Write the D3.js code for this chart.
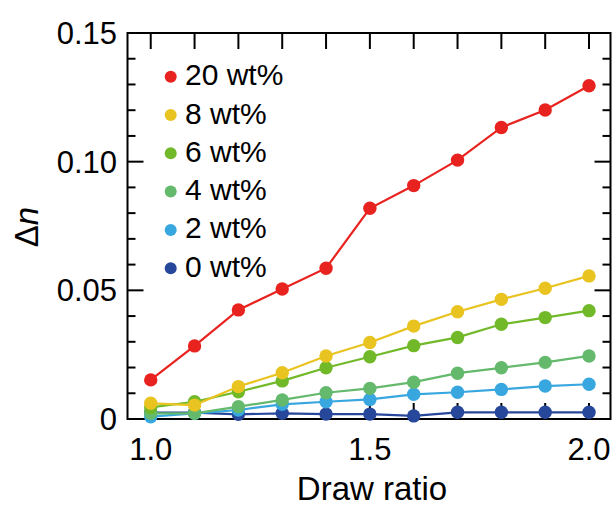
<!DOCTYPE html>
<html>
<head>
<meta charset="utf-8">
<script src="https://cdn.jsdelivr.net/npm/d3@7/dist/d3.min.js"></script>
<style>
  html, body { margin: 0; padding: 0; background: #fff; }
  svg { display: block; font-family: "Liberation Sans", Arial, Helvetica, sans-serif; }
</style>
</head>
<body>
<svg id="chart" width="616" height="508"></svg>
<script>
const drawRatio = [1.0, 1.1, 1.2, 1.3, 1.4, 1.5, 1.6, 1.7, 1.8, 1.9, 2.0];
const wt20 = [0.0152, 0.0284, 0.0424, 0.0505, 0.0586, 0.0819, 0.0907, 0.1006, 0.1133, 0.1201, 0.1295];
const wt8  = [0.0061, 0.0054, 0.0126, 0.0180, 0.0245, 0.0297, 0.0361, 0.0417, 0.0465, 0.0508, 0.0556];
const wt6  = [0.0045, 0.0067, 0.0106, 0.0148, 0.0199, 0.0242, 0.0285, 0.0317, 0.0368, 0.0394, 0.0421];
const wt4  = [0.0022, 0.0022, 0.0048, 0.0074, 0.0102, 0.0119, 0.0143, 0.0178, 0.0199, 0.0220, 0.0245];
const wt2  = [0.0009, 0.0022, 0.0035, 0.0057, 0.0067, 0.0076, 0.0096, 0.0104, 0.0115, 0.0128, 0.0135];
const wt0  = [0.0025, 0.0025, 0.0018, 0.0022, 0.0019, 0.0019, 0.0012, 0.0026, 0.0026, 0.0026, 0.0026];
const seriesNames = ["20 wt%", "8 wt%", "6 wt%", "4 wt%", "2 wt%", "0 wt%"];
const seriesValues = [wt20, wt8, wt6, wt4, wt2, wt0];
const seriesColors = ["#e8231f", "#e9c320", "#72b92a", "#64b96d", "#38a6df", "#27479b"];
const xTickValues = [1.0, 1.5, 2.0];
const xTickLabels = ["1.0", "1.5", "2.0"];
const xMinorTicks = [1.0, 1.1, 1.2, 1.3, 1.4, 1.5, 1.6, 1.7, 1.8, 1.9, 2.0];
const yTickValues = [0, 0.05, 0.10, 0.15];
const yTickLabels = ["0", "0.05", "0.10", "0.15"];
const yMinorTicks = [0.01, 0.02, 0.03, 0.04, 0.06, 0.07, 0.08, 0.09, 0.11, 0.12, 0.13, 0.14];

const svg = d3.select("#chart");
const L = 127.5, R = 610.5, T = 33, B = 419;
const x = d3.scaleLinear().domain([0.947, 2.049]).range([L, R]);
const y = d3.scaleLinear().domain([0, 0.15]).range([B, T]);

const majorLen = 16, minorLen = 8;
const g = svg.append("g");

// ticks (inward)
xMinorTicks.forEach(v => {
  g.append("line").attr("x1", x(v)).attr("x2", x(v)).attr("y1", T).attr("y2", T + majorLen)
    .attr("stroke", "#000").attr("stroke-width", 2);
  g.append("line").attr("x1", x(v)).attr("x2", x(v)).attr("y1", B).attr("y2", B - majorLen)
    .attr("stroke", "#000").attr("stroke-width", 2);
});
yTickValues.forEach(v => {
  g.append("line").attr("x1", L).attr("x2", L + majorLen).attr("y1", y(v)).attr("y2", y(v))
    .attr("stroke", "#000").attr("stroke-width", 2);
  g.append("line").attr("x1", R).attr("x2", R - majorLen).attr("y1", y(v)).attr("y2", y(v))
    .attr("stroke", "#000").attr("stroke-width", 2);
});
yMinorTicks.forEach(v => {
  g.append("line").attr("x1", L).attr("x2", L + minorLen).attr("y1", y(v)).attr("y2", y(v))
    .attr("stroke", "#000").attr("stroke-width", 2);
  g.append("line").attr("x1", R).attr("x2", R - minorLen).attr("y1", y(v)).attr("y2", y(v))
    .attr("stroke", "#000").attr("stroke-width", 2);
});

// frame
g.append("rect").attr("x", L).attr("y", T).attr("width", R - L).attr("height", B - T)
  .attr("fill", "none").attr("stroke", "#000").attr("stroke-width", 2);

// tick labels
xTickValues.forEach((v, i) => {
  g.append("text").attr("x", x(v)).attr("y", 460).attr("text-anchor", "middle")
    .attr("font-size", 31).attr("fill", "#000").text(xTickLabels[i]);
});
yTickValues.forEach((v, i) => {
  g.append("text").attr("x", 117).attr("y", y(v) + 11).attr("text-anchor", "end")
    .attr("font-size", 31).attr("fill", "#000").text(yTickLabels[i]);
});

// axis titles
svg.append("text").attr("x", (L + R) / 2 + 3).attr("y", 500).attr("text-anchor", "middle")
  .attr("font-size", 33).attr("fill", "#000").text("Draw ratio");
const yt = svg.append("text").attr("transform", "translate(38,227) rotate(-90)")
  .attr("text-anchor", "middle").attr("font-size", 33).attr("fill", "#000");
yt.append("tspan").text("Δ");
yt.append("tspan").attr("font-style", "italic").text("n");

// series: draw from 0 wt% up to 20 wt%
const line = d3.line().x((d, i) => x(drawRatio[i])).y(d => y(d));
for (let s = seriesValues.length - 1; s >= 0; s--) {
  const vals = seriesValues[s];
  const sg = svg.append("g");
  sg.append("path").datum(vals).attr("d", line).attr("fill", "none")
    .attr("stroke", seriesColors[s]).attr("stroke-width", 2.2);
  sg.selectAll("circle").data(vals).join("circle")
    .attr("cx", (d, i) => x(drawRatio[i])).attr("cy", d => y(d)).attr("r", 6.7)
    .attr("fill", seriesColors[s]);
}

// legend
seriesNames.forEach((name, i) => {
  const cy = 76.7 + i * 38.3;
  svg.append("circle").attr("cx", 170.7).attr("cy", cy).attr("r", 6).attr("fill", seriesColors[i]);
  svg.append("text").attr("x", 185).attr("y", cy + 8.5).attr("font-size", 30).attr("fill", "#000").text(name);
});
</script>
</body>
</html>
